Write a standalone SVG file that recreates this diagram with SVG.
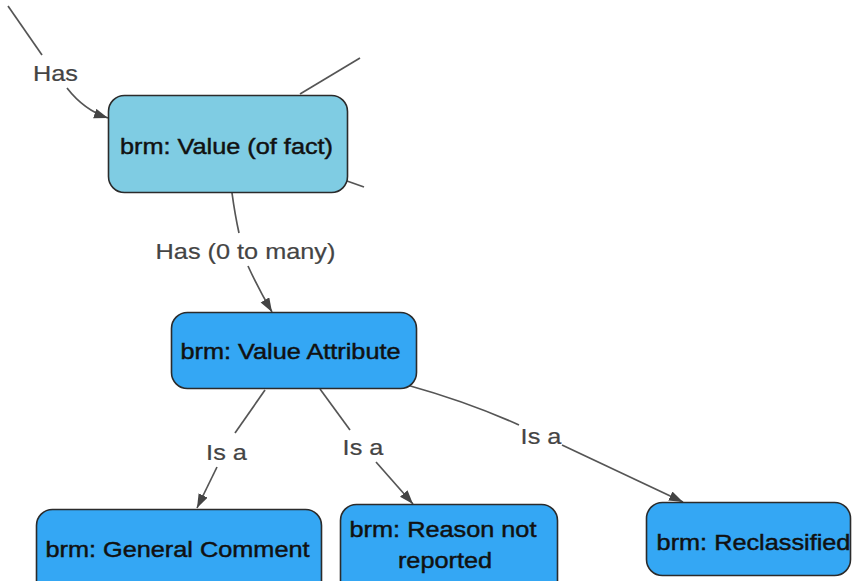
<svg xmlns="http://www.w3.org/2000/svg" width="853" height="581" viewBox="0 0 853 581">
  <style>
    .node-a { fill: #7fcce3; stroke: #2b2b2b; stroke-width: 1.6; }
    .node-b { fill: #34a7f4; stroke: #2b2b2b; stroke-width: 1.6; }
    .edge { fill: none; stroke: #555; stroke-width: 1.7; }
    .ntext { font-family: "Liberation Sans", Arial, sans-serif; font-size: 22px; fill: #111; stroke: #111; stroke-width: 0.45; text-anchor: middle; }
    .ltext { font-family: "Liberation Sans", Arial, sans-serif; font-size: 22px; fill: #444; stroke: #444; stroke-width: 0.2; text-anchor: middle; }
  </style>
  <defs>
    <marker id="arrow" markerUnits="userSpaceOnUse" markerWidth="16" markerHeight="12" refX="14" refY="5" orient="auto">
      <path d="M0,0 L14,5 L0,10 z" fill="#444"/>
    </marker>
  </defs>
  <rect width="853" height="581" fill="#fff"/>

  <g id="connectors">
    <!-- incoming "Has" -->
    <path class="edge" d="M8,6 L42,55"/>
    <path class="edge" d="M67,88 Q84,110 108,118" marker-end="url(#arrow)"/>
    <!-- partial links leaving the value node -->
    <path class="edge" d="M300,94 L360,58"/>
    <path class="edge" d="M347,181 L364,187"/>
    <!-- Has (0 to many) -->
    <path class="edge" d="M232,193 Q235,215 239,233"/>
    <path class="edge" d="M248,266 Q258,288 272,312" marker-end="url(#arrow)"/>
    <!-- Is a : General Comment -->
    <path class="edge" d="M265,390 L235,433"/>
    <path class="edge" d="M217,467 L197,508" marker-end="url(#arrow)"/>
    <!-- Is a : Reason not reported -->
    <path class="edge" d="M320,389 L350,430"/>
    <path class="edge" d="M376,462 L413,504" marker-end="url(#arrow)"/>
    <!-- Is a : Reclassified -->
    <path class="edge" d="M407,385 Q468,402 519,425"/>
    <path class="edge" d="M562,445 L683,502" marker-end="url(#arrow)"/>
  </g>

  <g id="labels">
    <text class="ltext" transform="translate(55.5,81) scale(1.15,1)">Has</text>
    <text class="ltext" transform="translate(245.5,259) scale(1.15,1)">Has (0 to many)</text>
    <text class="ltext" transform="translate(226.5,460) scale(1.15,1)">Is a</text>
    <text class="ltext" transform="translate(363,455) scale(1.15,1)">Is a</text>
    <text class="ltext" transform="translate(541,444) scale(1.15,1)">Is a</text>
  </g>

  <g id="value-of-fact">
    <rect class="node-a" x="108.5" y="95.5" width="239" height="97" rx="16"/>
    <text class="ntext" transform="translate(226.5,154) scale(1.15,1)">brm: Value (of fact)</text>
  </g>
  <g id="value-attribute">
    <rect class="node-b" x="171.5" y="312.5" width="245" height="76" rx="16"/>
    <text class="ntext" transform="translate(290.5,359) scale(1.15,1)">brm: Value Attribute</text>
  </g>
  <g id="general-comment">
    <rect class="node-b" x="36.5" y="509.5" width="285" height="90" rx="16"/>
    <text class="ntext" transform="translate(177.5,557) scale(1.15,1)">brm: General Comment</text>
  </g>
  <g id="reason-not-reported">
    <rect class="node-b" x="340.5" y="504.5" width="217" height="95" rx="16"/>
    <text class="ntext" transform="translate(443,537) scale(1.15,1)">brm: Reason not</text>
    <text class="ntext" transform="translate(445,568) scale(1.15,1)">reported</text>
  </g>
  <g id="reclassified">
    <rect class="node-b" x="646.5" y="502.5" width="204" height="73" rx="16"/>
    <text class="ntext" transform="translate(753.5,550) scale(1.15,1)">brm: Reclassified</text>
  </g>
</svg>
